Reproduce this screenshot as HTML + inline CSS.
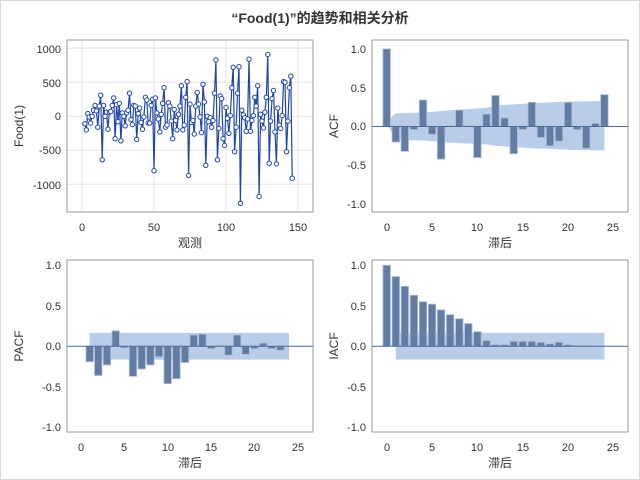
<!DOCTYPE html>
<html><head><meta charset="utf-8"><style>
body{margin:0;background:#fff}
svg{display:block}
text{font-family:"Liberation Sans","Noto Sans CJK SC",sans-serif;fill:#333}
.t{font-size:11px}
.l{font-size:12px}
</style></head><body>
<svg id="s" width="640" height="480" viewBox="0 0 640 480">
<rect x="0.5" y="0.5" width="639" height="479" fill="#fff" stroke="#d8d8d8"/>
<text x="320" y="23" text-anchor="middle" style="font-size:14px;font-weight:bold" fill="#000">“Food(1)”的趋势和相关分析</text>
<g id="g"></g>
<g class="t" text-anchor="end">
<text x="61" y="53">1000</text><text x="61" y="87">500</text><text x="61" y="120">0</text><text x="61" y="154">-500</text><text x="61" y="189">-1000</text>
</g>
<g class="t" text-anchor="middle">
<text x="82" y="231">0</text><text x="154" y="231">50</text><text x="226" y="231">100</text><text x="298" y="231">150</text>
</g>
<text class="l" x="190" y="247" text-anchor="middle">观测</text>
<text class="l" transform="translate(23,126) rotate(-90)" text-anchor="middle">Food(1)</text>
<g class="t" text-anchor="end">
<text x="366" y="53">1.0</text><text x="366" y="92">0.5</text><text x="366" y="130">0.0</text><text x="366" y="169">-0.5</text><text x="366" y="208">-1.0</text>
</g>
<g class="t" text-anchor="middle">
<text x="387" y="231">0</text><text x="432" y="231">5</text><text x="477" y="231">10</text><text x="523" y="231">15</text><text x="568" y="231">20</text><text x="613" y="231">25</text>
</g>
<text class="l" x="500" y="247" text-anchor="middle">滞后</text>
<text class="l" transform="translate(338,126) rotate(-90)" text-anchor="middle">ACF</text>
<g class="t" text-anchor="end">
<text x="61" y="269">1.0</text><text x="61" y="310">0.5</text><text x="61" y="350">0.0</text><text x="61" y="391">-0.5</text><text x="61" y="431">-1.0</text>
</g>
<g class="t" text-anchor="middle">
<text x="81" y="451">0</text><text x="124" y="451">5</text><text x="168" y="451">10</text><text x="211" y="451">15</text><text x="254" y="451">20</text><text x="298" y="451">25</text>
</g>
<text class="l" x="190" y="467" text-anchor="middle">滞后</text>
<text class="l" transform="translate(23,346) rotate(-90)" text-anchor="middle">PACF</text>
<g class="t" text-anchor="end">
<text x="366" y="269">1.0</text><text x="366" y="310">0.5</text><text x="366" y="350">0.0</text><text x="366" y="391">-0.5</text><text x="366" y="431">-1.0</text>
</g>
<g class="t" text-anchor="middle">
<text x="387" y="451">0</text><text x="432" y="451">5</text><text x="477" y="451">10</text><text x="523" y="451">15</text><text x="568" y="451">20</text><text x="613" y="451">25</text>
</g>
<text class="l" x="500" y="467" text-anchor="middle">滞后</text>
<text class="l" transform="translate(338,346) rotate(-90)" text-anchor="middle">IACF</text>
</svg>
<script>
var g=document.getElementById('g'),h='';
function R(x,y,w,hh,a){h+='<rect x="'+x+'" y="'+y+'" width="'+w+'" height="'+hh+'" '+a+'/>';}
function L(x1,y1,x2,y2,a){h+='<line x1="'+x1+'" y1="'+y1+'" x2="'+x2+'" y2="'+y2+'" '+a+'/>';}
var Y0=116.3,ys=0.068,X0=82,xs=1.44;
[1000,500,0,-500,-1000].forEach(function(v){L(67,Y0-v*ys,313,Y0-v*ys,'stroke="#e6e6e6"');});
[0,50,100,150].forEach(function(v){L(X0+v*xs,40,X0+v*xs,212,'stroke="#e6e6e6"');});
var d=[-110,-200,40,-10,-100,0,90,160,80,-160,150,310,-640,160,0,60,-190,60,70,160,270,-330,170,-80,190,-360,50,0,-140,50,90,340,-50,-120,160,150,-340,40,120,-90,-190,-10,280,240,-100,-100,160,250,-800,270,50,-40,-230,30,190,420,-160,-130,200,150,-70,-330,100,-60,-200,30,150,450,-200,-130,280,510,-870,180,-90,-60,-260,150,350,180,-10,-240,470,210,-720,0,-80,-20,-160,-60,340,830,-640,-180,300,260,-330,-430,130,-30,-250,10,420,720,-520,-160,340,730,-1280,90,20,-20,-220,-40,840,-220,-60,10,280,150,450,-1180,30,-70,-170,60,280,910,-690,-70,260,380,-230,-700,120,-130,-180,10,510,500,-520,-70,420,590,-910];
var p=d.map(function(v,i){return (X0+(i+2)*xs).toFixed(1)+','+(Y0-v*ys).toFixed(1);});
h+='<polyline points="'+p.join(' ')+'" fill="none" stroke="#1f45a8" stroke-width="1.2"/>';
p.forEach(function(q){var a=q.split(',');h+='<circle cx="'+a[0]+'" cy="'+a[1]+'" r="2.2" fill="#fff" stroke="#1f45a8" stroke-width="1"/>';});
R(67,40,246,172,'fill="none" stroke="#999"');
function panel(fx,fy,fw,x0,xsc,y0,ysc,vals,start,band){
  var poly=band.map(function(b){return (x0+b[0]*xsc)+','+(y0-b[1]*ysc);});
  var poly2=band.slice().reverse().map(function(b){return (x0+b[0]*xsc)+','+(y0+b[2]*ysc);});
  h+='<polygon points="'+poly.concat(poly2).join(' ')+'" fill="#b9cde8"/>';
  vals.forEach(function(v,i){var lag=i+start,x=x0+lag*xsc-3.7,y=v>=0?y0-v*ysc:y0,hh=Math.abs(v)*ysc;R(x.toFixed(1),y.toFixed(1),7.4,hh.toFixed(1),'fill="#637ca3" stroke="#a9bad3" stroke-width="0.8"');});
  L(fx,y0,fx+fw,y0,'stroke="#4b6a96" stroke-width="1"');
  R(fx,fy,fw,172,'fill="none" stroke="#999"');
}
var acf=[1,-0.2,-0.32,-0.04,0.34,-0.1,-0.42,0.01,0.21,0.01,-0.4,0.16,0.4,0.11,-0.35,-0.04,0.31,-0.14,-0.25,-0.19,0.31,-0.04,-0.28,0.04,0.41];
var ab=[[0,0.02,0.0],[0.3,0.09,0.02],[1,0.17,0.17],[4,0.18,0.18],[5,0.19,0.19],[7,0.21,0.21],[11,0.24,0.23],[12,0.27,0.25],[16,0.3,0.28],[20,0.32,0.3],[24,0.33,0.31]];
panel(372,40,256,386.7,9.07,126.5,77.6,acf,0,ab);
var pacf=[-0.19,-0.36,-0.23,0.19,-0.02,-0.37,-0.28,-0.23,-0.13,-0.46,-0.4,-0.2,0.14,0.15,-0.03,0.01,-0.11,0.14,-0.1,-0.03,0.04,-0.03,-0.05];
panel(67,260,246,81,8.67,346.3,81,pacf,1,[[1,0.165,0.165],[24,0.165,0.165]]);
var iacf=[1,0.86,0.74,0.63,0.55,0.52,0.45,0.39,0.34,0.28,0.18,0.07,0.02,0.02,0.06,0.06,0.06,0.05,0.03,0.05,0.02,0.01,0.01];
panel(372,260,256,386.7,9.07,346.3,81,iacf,0,[[1,0.165,0.165],[24,0.165,0.165]]);
g.innerHTML=h;
</script>
</body></html>
